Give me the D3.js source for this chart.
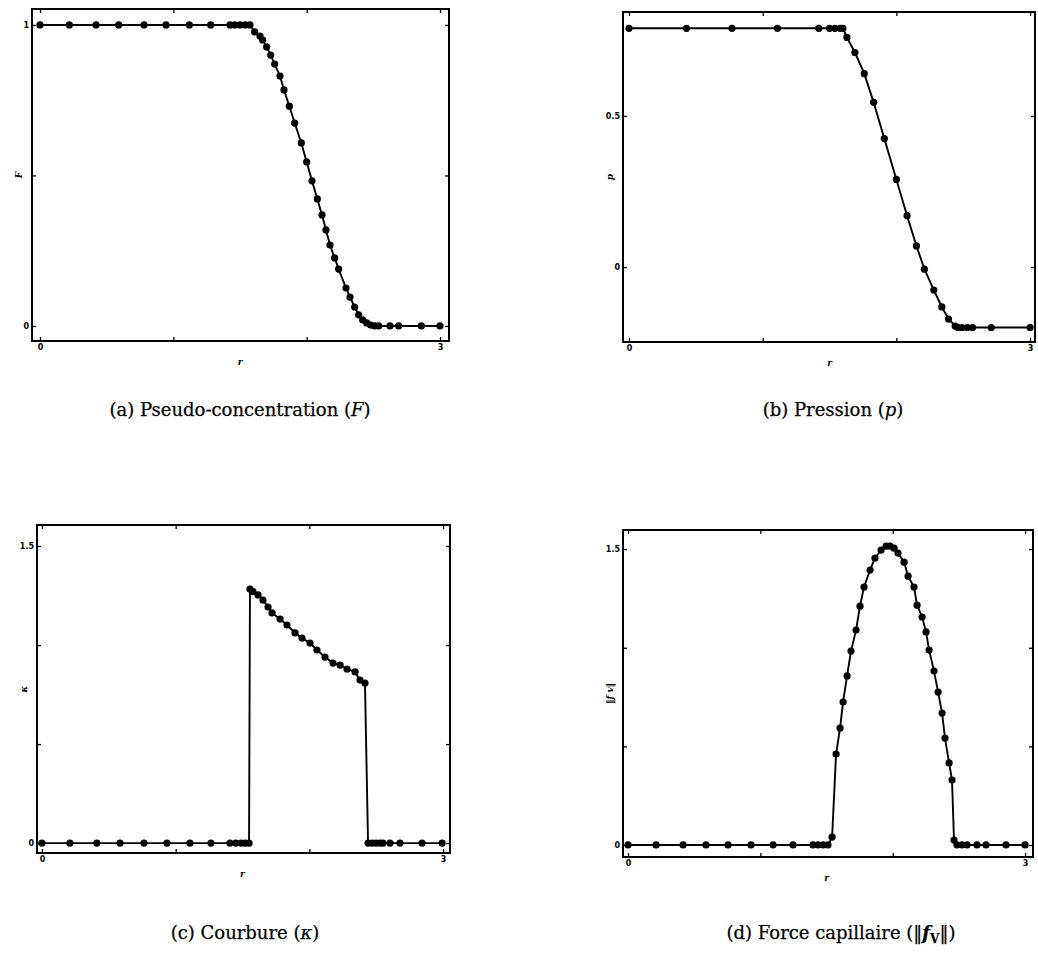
<!DOCTYPE html>
<html>
<head>
<meta charset="utf-8">
<script src="https://cdn.jsdelivr.net/npm/d3@7"></script>
<style>
  body { margin: 0; background: #fff; }
</style>
</head>
<body>
<div id="chart"></div>
<script>
// (a) pseudo-concentration F(r)
var rA = [0, 0.22, 0.42, 0.59, 0.78, 0.945, 1.12, 1.28, 1.425, 1.46, 1.5, 1.54, 1.575,
  1.61, 1.65, 1.67, 1.70, 1.73, 1.76, 1.80, 1.83, 1.87, 1.91, 1.96, 2.00, 2.04, 2.08,
  2.115, 2.145, 2.175, 2.21, 2.24, 2.295, 2.325, 2.36, 2.39, 2.42, 2.45, 2.48,
  2.51, 2.54, 2.625, 2.69, 2.86, 3.0];
var fA = [1, 1, 1, 1, 1, 1, 1, 1, 1, 1, 1, 1, 1,
  0.977, 0.963, 0.95, 0.927, 0.90, 0.87, 0.83, 0.784, 0.73, 0.674, 0.608, 0.545, 0.482, 0.422,
  0.369, 0.319, 0.269, 0.226, 0.189, 0.126, 0.096, 0.063, 0.037, 0.02, 0.01, 0.003,
  0, 0, 0, 0, 0, 0];

// (b) pression p(r)
var rB = [0, 0.43, 0.77, 1.11, 1.42, 1.50, 1.54, 1.58, 1.60, 1.63, 1.69, 1.76, 1.83, 1.91,
  2.00, 2.08, 2.15, 2.21, 2.28, 2.34, 2.39, 2.44, 2.46, 2.49, 2.53, 2.57, 2.71, 3.0];
var pB = [0.79, 0.79, 0.79, 0.79, 0.79, 0.79, 0.79, 0.79, 0.79, 0.76, 0.71, 0.64, 0.545, 0.425,
  0.29, 0.17, 0.07, -0.007, -0.076, -0.132, -0.172, -0.195, -0.2, -0.2, -0.2, -0.2, -0.2, -0.2];

// (c) courbure kappa(r)
var rC = [0, 0.209, 0.411, 0.584, 0.763, 0.935, 1.107, 1.264, 1.406, 1.45, 1.49, 1.52, 1.549,
  1.556, 1.578, 1.616, 1.653, 1.691, 1.721, 1.781, 1.833, 1.893, 1.945, 2.005, 2.057, 2.117,
  2.177, 2.23, 2.282, 2.342, 2.379, 2.416,
  2.439, 2.469, 2.499, 2.529, 2.551, 2.603, 2.678, 2.843, 2.993];
var kC = [0, 0, 0, 0, 0, 0, 0, 0, 0, 0, 0, 0, 0,
  1.283, 1.27, 1.253, 1.227, 1.192, 1.162, 1.131, 1.101, 1.061, 1.035, 1.01, 0.975, 0.939,
  0.909, 0.899, 0.879, 0.864, 0.823, 0.808,
  0, 0, 0, 0, 0, 0, 0, 0, 0];

// (d) force capillaire ||f_v||(r)
var rD = [0, 0.212, 0.416, 0.589, 0.756, 0.929, 1.096, 1.247, 1.398, 1.436, 1.474, 1.511,
  1.542, 1.572, 1.602, 1.625, 1.655, 1.685, 1.723, 1.753, 1.783, 1.829, 1.866, 1.912, 1.95,
  1.98, 2.01, 2.04, 2.086, 2.116, 2.161, 2.184, 2.222, 2.252, 2.275, 2.312, 2.343, 2.373,
  2.395, 2.426, 2.448, 2.463, 2.486, 2.524, 2.562, 2.637, 2.705, 2.856, 3.0];
var fvD = [0, 0, 0, 0, 0, 0, 0, 0, 0, 0, 0, 0,
  0.04, 0.461, 0.593, 0.725, 0.857, 0.983, 1.09, 1.211, 1.308, 1.394, 1.455, 1.495, 1.515,
  1.515, 1.505, 1.48, 1.434, 1.363, 1.308, 1.216, 1.156, 1.08, 0.988, 0.882, 0.775, 0.669,
  0.542, 0.416, 0.329, 0.025, 0, 0, 0, 0, 0, 0, 0];

// ticks
var xTicks = [0, 1, 2, 3];
var xTickLabels = { 0: '0', 3: '3' };
var yTicksA = [0, 0.5, 1];
var yTickLabelsA = { 0: '0', 1: '1' };
var yTicksB = [0, 0.5];
var yTickLabelsB = { 0: '0', 0.5: '0.5' };
var yTicksCD = [0, 0.5, 1, 1.5];
var yTickLabelsCD = { 0: '0', 1.5: '1.5' };

var svg = d3.select('#chart')
  .append('svg')
  .attr('width', 1038)
  .attr('height', 957);

function zip(xs, ys) {
  return xs.map(function (x, i) { return { x: x, y: ys[i] }; });
}

function drawPanel(p) {
  var scaleX = d3.scaleLinear().domain(p.xDomain).range([0, p.w]);
  var scaleY = d3.scaleLinear().domain(p.yDomain).range([p.h, 0]);

  var g = svg.append('g')
    .attr('transform', 'translate(' + p.x + ',' + p.y + ')');

  var fmtX = function (d) { return xTickLabels[d] || ''; };
  var fmtY = function (d) { return p.yLabels[d] || ''; };

  var axes = [
    { axis: d3.axisBottom(scaleX).tickValues(xTicks).tickFormat(fmtX), t: 'translate(0,' + p.h + ')' },
    { axis: d3.axisTop(scaleX).tickValues(xTicks).tickFormat(''), t: 'translate(0,0)' },
    { axis: d3.axisLeft(scaleY).tickValues(p.yTicks).tickFormat(fmtY), t: 'translate(0,0)' },
    { axis: d3.axisRight(scaleY).tickValues(p.yTicks).tickFormat(''), t: 'translate(' + p.w + ',0)' }
  ];
  axes.forEach(function (a) {
    var ag = g.append('g')
      .attr('transform', a.t)
      .call(a.axis.tickSizeInner(-4).tickSizeOuter(0).tickPadding(3));
    ag.select('.domain').remove();
    ag.selectAll('line').attr('stroke', '#000').attr('stroke-width', 1.3);
    ag.selectAll('text')
      .attr('font-family', 'DejaVu Sans')
      .attr('font-weight', 'bold')
      .attr('font-size', 8)
      .attr('fill', '#000');
  });

  // frame
  g.append('rect')
    .attr('width', p.w)
    .attr('height', p.h)
    .attr('fill', 'none')
    .attr('stroke', '#000')
    .attr('stroke-width', 2);

  var lineFunc = d3.line()
    .x(function (d) { return scaleX(d.x); })
    .y(function (d) { return scaleY(d.y); });

  var pts = zip(p.xs, p.ys);

  g.append('path')
    .attr('d', lineFunc(pts))
    .attr('fill', 'none')
    .attr('stroke', '#000')
    .attr('stroke-width', 1.9);

  g.selectAll('circle')
    .data(pts)
    .enter()
    .append('circle')
    .attr('cx', function (d) { return scaleX(d.x); })
    .attr('cy', function (d) { return scaleY(d.y); })
    .attr('r', 3.6)
    .attr('fill', '#000');

  // axis names
  g.append('text')
    .attr('x', (scaleX(0) + scaleX(3)) / 2)
    .attr('y', p.h + 24)
    .attr('text-anchor', 'middle')
    .attr('font-family', 'DejaVu Serif')
    .attr('font-style', 'italic')
    .attr('font-weight', 'bold')
    .attr('font-size', 9)
    .text('r');

  g.append('text')
    .attr('transform', 'translate(-10,' + (p.h / 2) + ') rotate(-90)')
    .attr('text-anchor', 'middle')
    .attr('font-family', 'DejaVu Serif')
    .attr('font-style', 'italic')
    .attr('font-weight', 'bold')
    .attr('font-size', 9)
    .text(p.yName);

  // caption
  var cap = svg.append('text')
    .attr('x', p.capX)
    .attr('y', p.capY)
    .attr('text-anchor', 'middle')
    .attr('font-family', 'DejaVu Serif')
    .attr('font-size', 18)
    .attr('fill', '#000')
    .attr('stroke', '#000')
    .attr('stroke-width', 0.25);
  p.caption.forEach(function (part) {
    var t = cap.append('tspan').text(part.t);
    if (part.i) t.attr('font-style', 'italic');
    if (part.b) t.attr('font-weight', 'bold');
    if (part.sub) t.attr('font-size', 12).attr('dy', 4);
    if (part.up) t.attr('dy', -4);
  });
}

drawPanel({
  x: 32, y: 9, w: 417, h: 332,
  xDomain: [-0.06, 3.0675], yDomain: [-0.05, 1.053],
  yTicks: yTicksA, yLabels: yTickLabelsA,
  xs: rA, ys: fA,
  yName: 'F',
  capX: 240, capY: 416,
  caption: [{ t: '(a) Pseudo-concentration (' }, { t: 'F', i: true }, { t: ')' }]
});

drawPanel({
  x: 623, y: 12, w: 412, h: 330,
  xDomain: [-0.045, 3.037], yDomain: [-0.248, 0.844],
  yTicks: yTicksB, yLabels: yTickLabelsB,
  xs: rB, ys: pB,
  yName: 'p',
  capX: 833, capY: 416,
  caption: [{ t: '(b) Pression (' }, { t: 'p', i: true }, { t: ')' }]
});

drawPanel({
  x: 37, y: 525, w: 413, h: 328,
  xDomain: [-0.037, 3.052], yDomain: [-0.05, 1.606],
  yTicks: yTicksCD, yLabels: yTickLabelsCD,
  xs: rC, ys: kC,
  yName: 'κ',
  capX: 245, capY: 939,
  caption: [{ t: '(c) Courbure (' }, { t: 'κ', i: true }, { t: ')' }]
});

drawPanel({
  x: 623, y: 530, w: 410, h: 327,
  xDomain: [-0.038, 3.06], yDomain: [-0.061, 1.597],
  yTicks: yTicksCD, yLabels: yTickLabelsCD,
  xs: rD, ys: fvD,
  yName: '‖f v‖',
  capX: 841, capY: 939,
  caption: [{ t: '(d) Force capillaire (‖' }, { t: 'f', i: true, b: true },
    { t: 'V', b: true, sub: true }, { t: '‖)', up: true }]
});
</script>
</body>
</html>
